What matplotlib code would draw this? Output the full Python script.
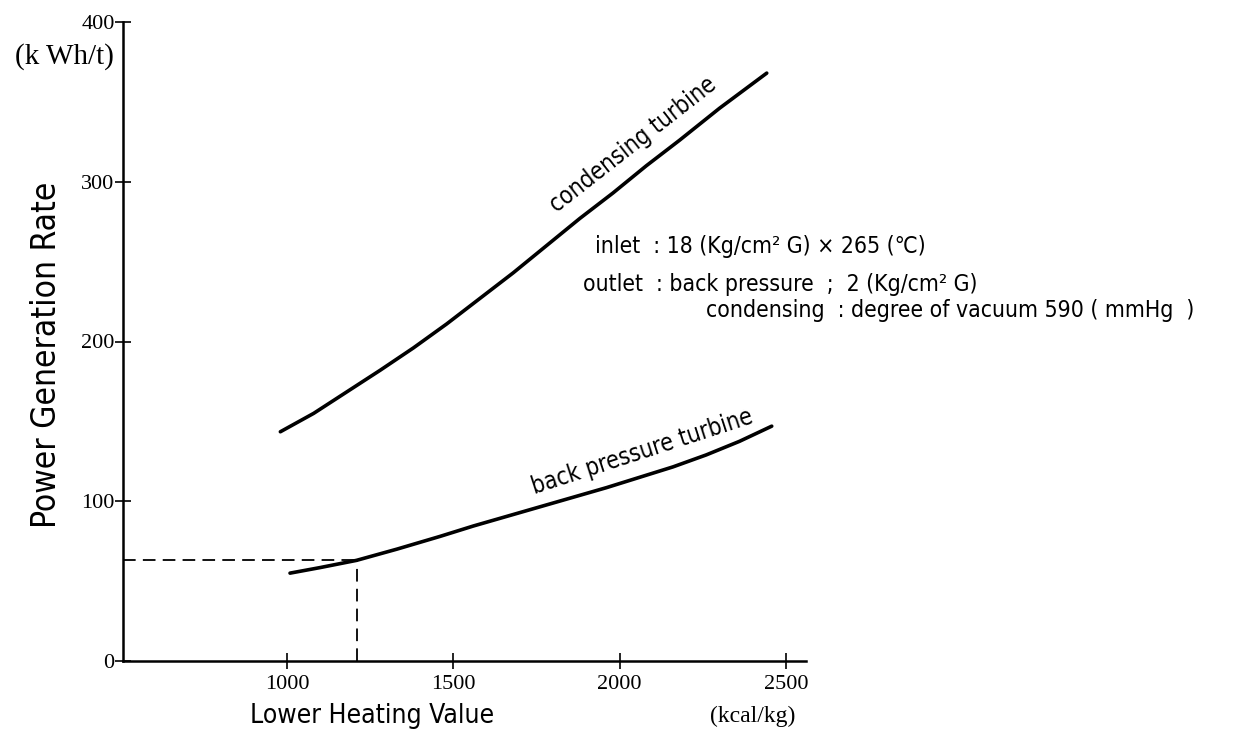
import matplotlib
matplotlib.use("Agg")
import matplotlib.pyplot as plt

# Data
cond_x = [980, 1080, 1180, 1280, 1380, 1480, 1580, 1680, 1780, 1880, 1980, 2080, 2180, 2300, 2442]
cond_y = [143.5, 155, 168.5, 182, 196, 211, 227, 243, 260, 277, 293, 310, 326, 346, 368]
back_x = [1009, 1100, 1209, 1330, 1460, 1560, 1760, 1960, 2160, 2260, 2360, 2457]
back_y = [55, 58.5, 63, 70, 78, 84.5, 96.5, 108.5, 121.5, 129, 137.5, 147]
ref_x = 1209
ref_y = 63
x_ticks = [1000, 1500, 2000, 2500]
y_ticks = [0, 100, 200, 300, 400]

label_font = ["DejaVu Sans"]
tick_font = ["Liberation Serif", "DejaVu Serif"]
STRETCH = "condensed"

fig = plt.figure(figsize=(12.35, 7.37), dpi=100)
ax = fig.add_axes([123/1235, 76/737, (806-123)/1235, (661-22)/737])
ax.set_xlim(507, 2560)
ax.set_ylim(0, 400)

ax.plot(cond_x, cond_y, color="black", lw=2.6, solid_capstyle="round", solid_joinstyle="round")
ax.plot(back_x, back_y, color="black", lw=2.6, solid_capstyle="round", solid_joinstyle="round")
ax.plot([507, ref_x], [ref_y, ref_y], color="black", lw=1.3, ls=(0, (7, 4)))
ax.plot([ref_x, ref_x], [0, ref_y], color="black", lw=1.3, ls=(0, (7, 4)))

for s in ["top", "right"]:
    ax.spines[s].set_visible(False)
for s in ["left", "bottom"]:
    ax.spines[s].set_linewidth(1.8)

ax.set_xticks(x_ticks)
ax.set_yticks(y_ticks)
ax.tick_params(direction="inout", length=12, width=1.2, labelsize=16)
ax.tick_params(axis="x", pad=4)
ax.tick_params(axis="y", pad=0)
for lab in ax.get_xticklabels() + ax.get_yticklabels():
    lab.set_fontfamily(tick_font)

ax.set_xlabel("Lower Heating Value", fontsize=19, family=label_font, fontstretch=STRETCH)
ax.xaxis.set_label_coords(0.365, (661 - 716) / 639)
ax.xaxis.label.set_va("center")
ax.set_ylabel("Power Generation Rate", fontsize=24, family=label_font, fontstretch=STRETCH)
ax.yaxis.set_label_coords((47 - 123) / 683, (661 - 355) / 639)
ax.yaxis.label.set_va("center")

fig.text(753/1235, 1 - 716/737, "(kcal/kg)", fontsize=17, family=tick_font, ha="center", va="center")
fig.text(64/1235, 1 - 57/737, "(k Wh/t)", fontsize=21, family=tick_font, ha="center", va="center")

ax.text(2040, 323, "condensing turbine", rotation=38, fontsize=17, family=label_font,
        fontstretch=STRETCH, ha="center", va="center", rotation_mode="anchor")
ax.text(2067, 131, "back pressure turbine", rotation=18, fontsize=17, family=label_font,
        fontstretch=STRETCH, ha="center", va="center", rotation_mode="anchor")

fig.text(595/1235, 1 - 247/737, "inlet  : 18 (Kg/cm² G) × 265 (℃)", fontsize=16.5,
         family=label_font, fontstretch=STRETCH, ha="left", va="center")
fig.text(583/1235, 1 - 284/737, "outlet  : back pressure  ;  2 (Kg/cm² G)", fontsize=16.5,
         family=label_font, fontstretch=STRETCH, ha="left", va="center")
fig.text(706/1235, 1 - 311/737, "condensing  : degree of vacuum 590 ( mmHg  )", fontsize=16.5,
         family=label_font, fontstretch=STRETCH, ha="left", va="center")

fig.savefig("out.png", dpi=100)
